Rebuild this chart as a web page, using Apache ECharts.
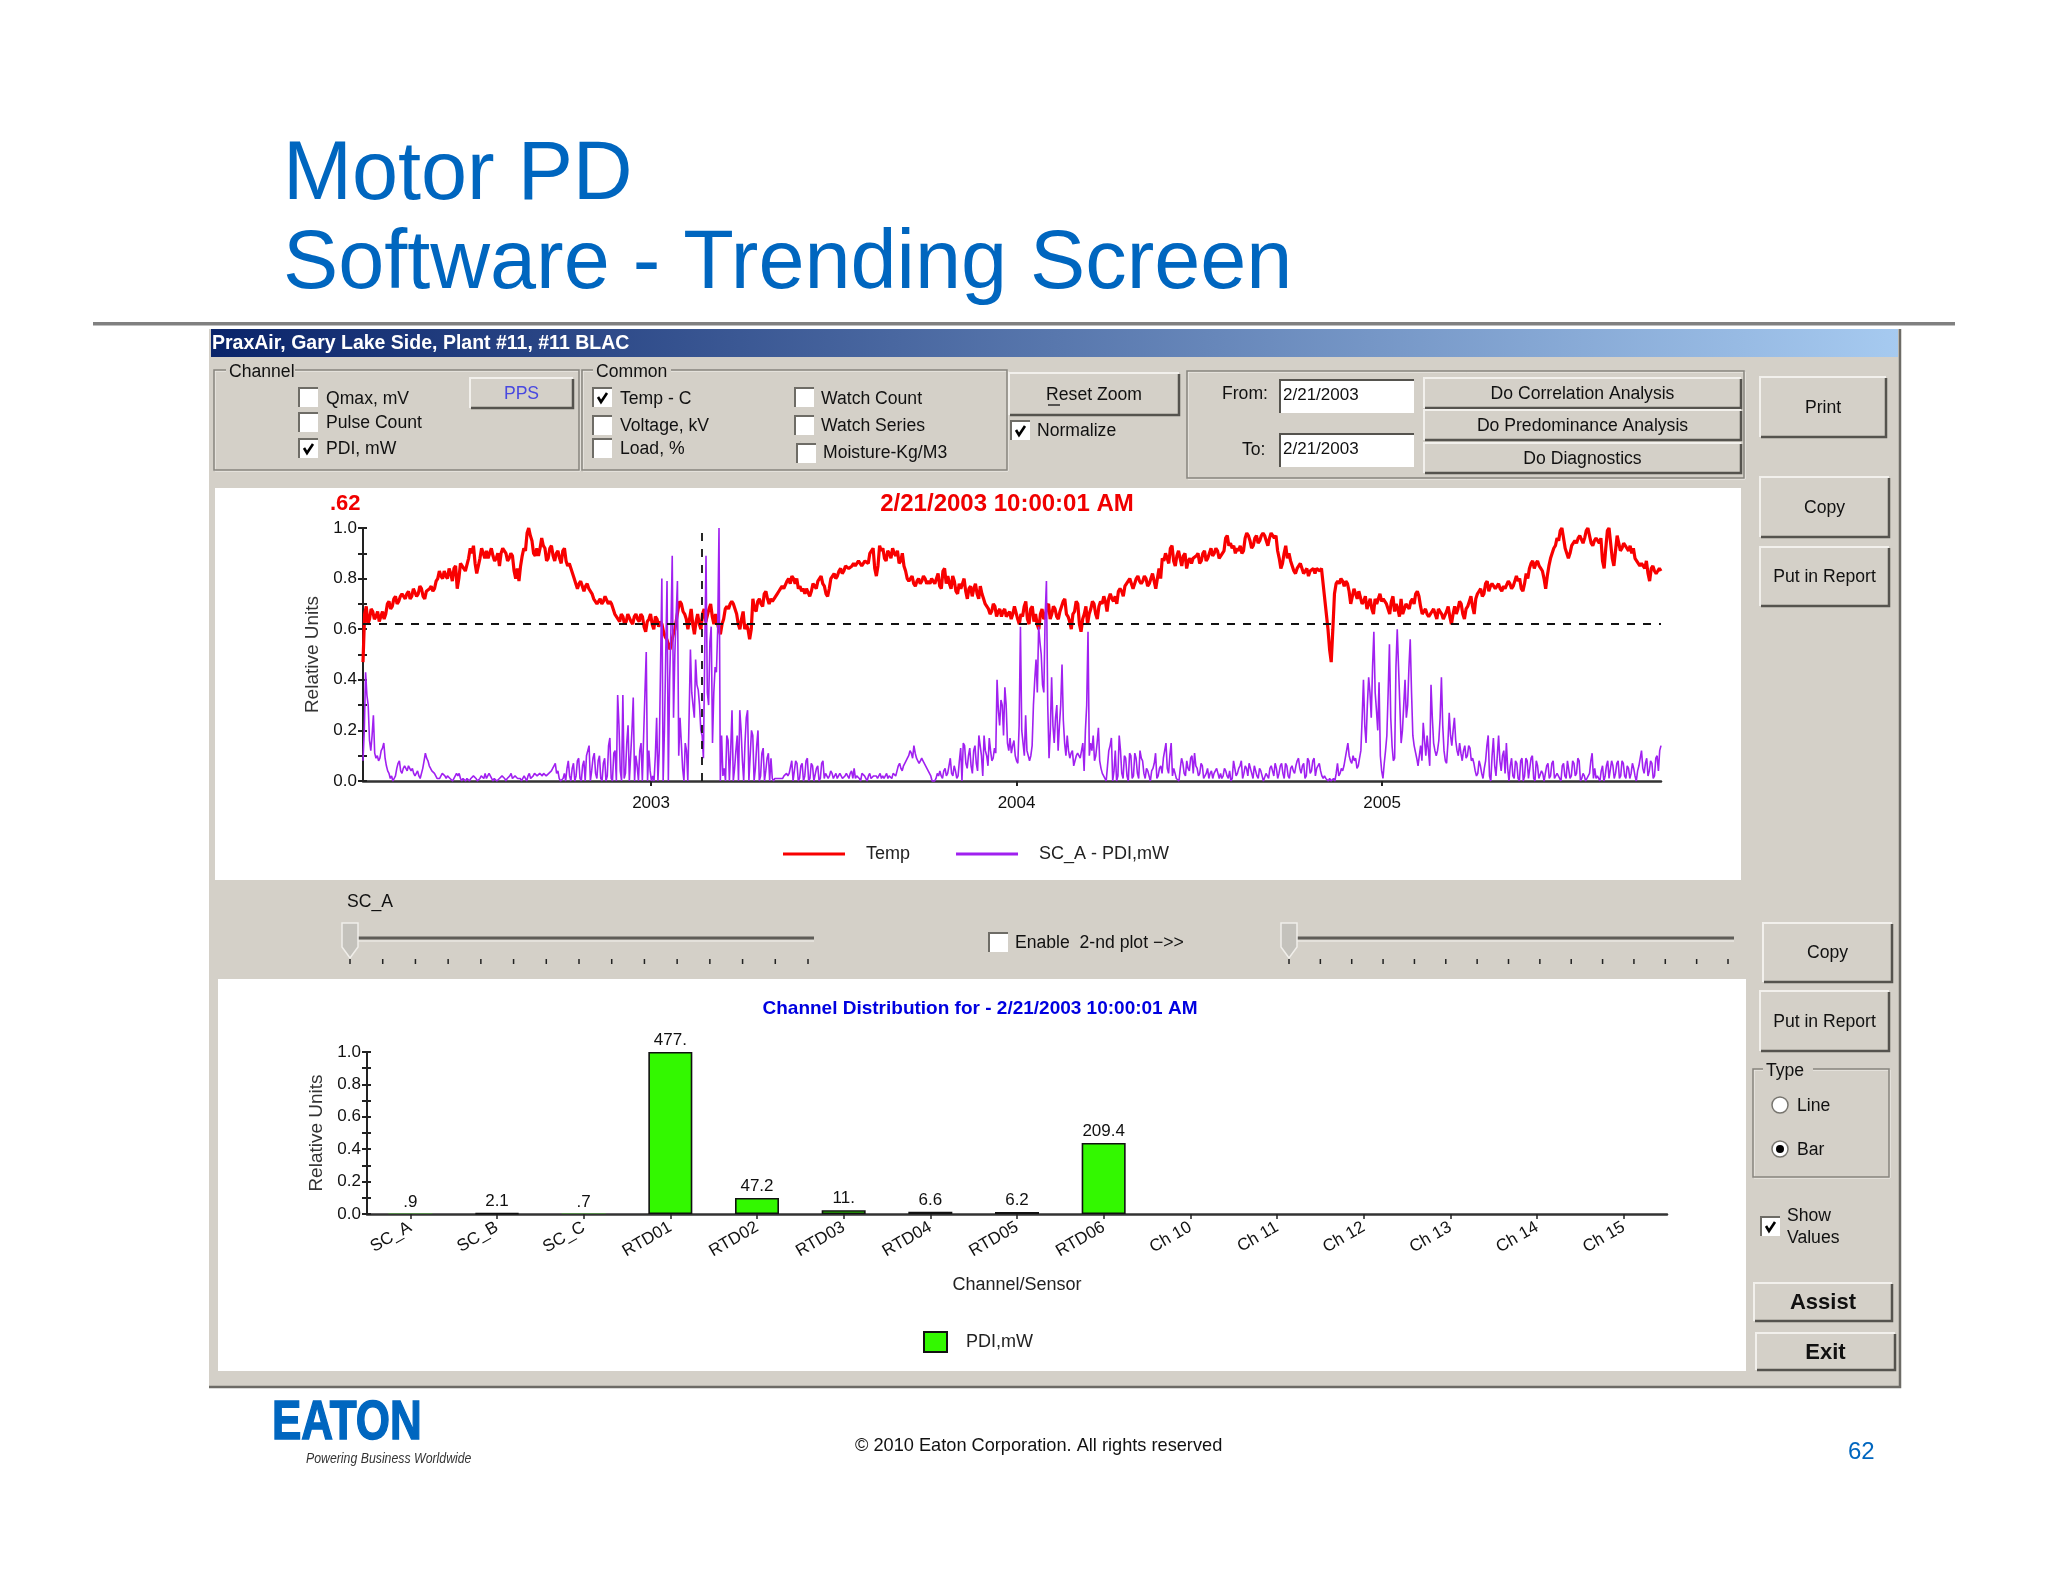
<!DOCTYPE html>
<html>
<head>
<meta charset="utf-8">
<title>Motor PD Software - Trending Screen</title>
<script src="https://cdn.jsdelivr.net/npm/echarts@6/dist/echarts.min.js"></script>
<style>
html,body{margin:0;padding:0;background:#fff;}
#main{width:2048px;height:1582px;}
</style>
</head>
<body>
<div id="main"></div>
<script>
// values, in percent of the relative scale, left to right
var tempSeg1 = [47,69,64,67,65,63,67,66,71,69,73,71,74,72,75,73,76,74,76,72,75,77,76,80,81,83,80,82,84,76,86,84,83,92,93,82,88,90,91,90,89,88,85,92,90,88,89,80,79,89,91,100,95,89,89,96,92,88,93,87,91,86,92,85,84,80,76,79,75,78,76,72,70,72,71,73,71,68,65,63];
var tempSeg2 = [65,63,66,62,66,63,65,59,64,62,65,61,62,57,54,55,60,68,70,66,60,68,58,66,60,68,63,70,62,66,58,64,69,70,70,66,60,67,62,56,72,67,72,69,75,70,71,73,75,77,76,80,81,78,76,75,74,76,75,77,79,81,77,73,80,82,81,84,83,85,84,86,86,86,85,87,90,92,81,93];
var tempSeg3 = [92,87,90,92,89,86,90,83,79,81,77,80,79,80,79,80,78,82,76,84,81,76,79,74,76,80,72,77,76,74,77,72,69,66,70,65,68,67,65,67,66,69,62,65,71,62,69,66,60,68,65,70,66,68,64,69,72,65,60,67,70,59,66,62,68,70,64,71,73,67,74,71,70,76,73,78,80,76,80,79];
var tempSeg4 = [79,80,78,82,76,84,88,90,86,93,85,91,85,90,87,86,88,90,87,91,88,92,90,91,89,91,97,94,93,92,93,91,98,95,93,97,95,98,95,96,98,97,88,86,93,90,85,82,85,84,83,81,83,82,84,84,72,60,47,74,79,80,77,78,70,76,72,75,71,68,72,66,70,74,72,70,66,73,70,65];
var tempSeg5 = [66,70,68,72,74,73,66,68,65,67,66,68,66,64,69,62,69,68,70,64,69,73,66,74,76,74,79,77,78,77,76,77,76,78,77,81,80,75,82,84,87,86,85,83,76,85,90,93,95,100,92,88,93,95,96,97,96,100,94,95,95,96,84,99,100,85,97,91,94,92,93,92,87,85,86,87,79,85,82,84];
// readings in between the ones above
var tempMid1 = [66,62,68,64,67,65,64,70,68,72,70,73,73,74,72,76,73,77,73,75,76,75,79,83,80,81,84,79,85,80,85,83,88,90,86,85,92,88,88,92,87,90,90,91,87,90,83,84,85,92,98,97,90,92,92,93,87,92,89,90,88,91,87,86,82,78,78,77,77,76,74,71,71,70,73,70,70,66,64,66];
var tempMid2 = [62,66,63,65,64,66,61,63,66,60,64,63,59,56,52,58,64,71,67,64,64,62,63,62,66,63,68,65,66,60,62,68,68,71,68,62,64,60,60,60,68,71,70,74,72,72,72,74,76,76,79,78,80,80,77,76,76,73,78,76,80,78,74,76,81,80,83,82,85,84,85,85,87,85,87,86,91,84,85,91];
var tempMid3 = [88,91,88,90,91,87,85,80,80,78,79,78,81,78,78,79,80,77,83,78,78,81,75,78,78,75,76,73,78,72,74,70,68,67,69,67,65,68,66,64,69,64,66,69,64,68,63,62,66,64,69,64,69,65,67,71,66,63,66,71,62,64,69,66,71,66,69,70,71,72,72,73,75,75,77,78,78,78,81,78];
var tempMid4 = [81,77,80,79,80,80,87,88,92,87,89,88,89,84,88,88,89,86,90,87,90,89,92,88,90,96,93,92,90,91,90,96,97,92,96,94,97,97,93,98,96,91,84,90,88,87,83,84,86,82,84,83,84,84,83,78,66,52,60,78,78,79,79,75,73,74,75,70,73,70,68,72,72,71,72,68,71,67,68,72];
var tempMid5 = [68,69,71,70,75,69,67,66,66,68,64,67,64,67,65,66,66,71,66,68,71,69,72,75,73,78,75,78,76,78,75,76,79,76,79,79,76,78,80,86,84,87,84,80,81,88,92,96,99,96,90,90,94,94,97,94,99,97,93,96,94,87,92,100,88,91,94,92,93,91,90,88,86,86,84,82,84,83,83,83];

var pdiSeg1 = [8,43,30,12,26,9,8,12,15,6,3,2,0,5,8,3,6,4,6,5,2,4,1,5,11,8,5,4,2,1,2,3,1,2,1,1,3,3,0,1,1,0,1,2,0,1,2,3,2,3,0,1,0,1,2,0,1,3,1,2,1,0,2,0,3,1,3,2,3,2,3,2,3,5,7,4,0,1,0,8,0,7,2,9,0,8,10,14,4,11,1,10,0,9,2,17,0,12,34,4];
var pdiSeg2 = [34,3,22,0,33,10,0,15,18,51,12,0,0,25,12,80,20,79,40,89,50,79,25,5,15,0,52,30,48,36,20,9,89,30,61,35,43,100,18,5,18,0,28,5,18,28,8,15,28,0,18,5,20,2,13,4,11,9,0,1,1,1,2,3,3,8,0,7,1,7,2,9,1,6,0,6,1,8,3,1,4,1,3,2,3,1,3,1,4,5,2,1,3,2,0,3,1,2,1,3];
var pdiSeg3 = [2,2,1,2,3,2,6,5,6,7,10,11,14,9,7,9,7,5,3,0,0,3,4,1,5,3,9,2,4,2,13,15,7,10,6,12,7,18,10,18,10,17,8,13,40,22,30,37,15,17,14,10,7,61,15,26,12,10,30,48,61,50,35,79,9,41,15,30,22,46,15,18,9,12,8,11,9,15,20,59,15,18,10,21,5,2,0,12,17,4,0,18,3,10,2,11,1,11,3,12];
var pdiSeg4 = [8,1,4,0,5,11,2,6,9,15,3,15,5,1,0,9,3,8,4,10,11,5,3,6,2,5,3,1,4,3,3,2,4,1,0,8,2,5,8,3,5,7,3,6,2,5,4,0,2,5,4,7,1,6,3,7,2,5,4,6,9,3,7,2,8,4,9,5,7,2,2,1,1,0,0,7,3,4,9,15,8,10,9,6,12,40,15,41,25,59,28,39,4,7,18,54,14,9,60,30];
var pdiSeg5 = [20,40,30,56,18,14,6,14,23,10,12,38,15,10,16,41,12,7,27,14,25,12,15,8,14,10,13,9,4,3,6,1,8,18,0,17,2,18,4,12,15,0,9,1,7,0,9,2,8,1,10,0,6,1,3,0,7,2,8,1,2,0,7,1,8,2,7,3,8,1,2,0,3,11,5,2,0,6,2,8,1,6,3,8,2,7,1,5,3,5,0,6,12,3,9,4,7,2,10,12];
var pdiMid1 = [20,34,16,18,11,10,9,13,9,4,1,0,2,7,4,5,5,6,4,3,3,2,3,8,9,6,4,3,1,1,3,2,2,1,0,2,2,1,1,0,1,1,2,1,0,2,1,1,3,1,1,0,1,2,1,1,2,1,2,1,1,1,1,2,1,2,3,2,3,3,2,3,4,6,3,1,0,3,5,2,5,0,8,1,6,0,12,0,9,3,8,1,7,0,14,1,11,0,22,0];
var pdiMid2 = [1,15,0,20,0,6,12,0,35,0,4,2,10,0,45,0,50,0,60,25,65,10,15,0,12,0,35,25,38,30,18,50,35,55,15,45,60,0,2,0,16,12,0,12,0,20,0,25,0,20,0,14,0,11,0,9,0,1,1,1,1,1,2,2,3,0,8,0,6,0,8,0,7,0,5,0,7,1,3,2,3,2,1,3,1,2,2,3,1,1,2,0,3,1,2,1,2,2,2,1];
var pdiMid3 = [1,3,2,1,3,4,7,4,7,9,12,9,11,8,8,8,6,4,2,0,1,2,2,4,2,6,3,6,1,8,0,14,5,13,3,14,4,14,2,12,6,12,9,11,28,32,18,30,12,11,16,8,22,20,10,12,8,14,40,35,55,38,65,30,20,22,25,12,30,24,10,12,11,6,10,10,12,4,30,10,12,8,15,8,3,1,6,14,0,12,2,12,1,9,0,10,2,9,1,9];
var pdiMid4 = [3,5,2,4,7,1,5,3,12,5,10,2,3,1,5,7,2,5,9,3,6,2,7,1,3,1,4,3,5,1,1,5,2,4,1,5,3,6,1,6,2,5,1,4,1,4,0,3,1,6,2,5,3,7,1,6,1,6,3,8,5,6,1,9,3,8,2,6,4,1,1,0,0,1,3,2,5,6,12,10,7,8,5,9,25,22,30,35,45,35,20,10,1,12,35,25,8,45,45,15];
var pdiMid5 = [30,25,45,35,14,9,10,8,16,18,6,25,12,12,25,22,8,15,18,20,16,10,11,12,9,14,8,7,2,8,3,5,14,2,10,6,10,8,10,3,5,6,2,8,1,8,0,9,1,9,1,8,1,4,0,6,1,7,1,3,1,6,2,8,1,8,2,9,0,3,0,2,8,1,1,1,4,0,6,1,8,1,7,1,8,2,6,1,7,2,4,9,5,7,2,8,1,9,4,14];

var yearTicks = [2003, 2004, 2005];
var firstYear = 2002.212;
var lastYear = 2005.763;
var cursorYear = 2003.142;
var cursorValue = 0.62;

var channels = ['SC_A','SC_B','SC_C','RTD01','RTD02','RTD03','RTD04','RTD05','RTD06','Ch 10','Ch 11','Ch 12','Ch 13','Ch 14','Ch 15'];
var channelValues = [0.9,2.1,0.7,477,47.2,11,6.6,6.2,209.4,null,null,null,null,null,null];
var channelLabels = ['.9','2.1','.7','477.','47.2','11.','6.6','6.2','209.4','','','','','',''];
var channelMax = 477;

var FONT = '"Liberation Sans", Arial, sans-serif';
var FACE = '#d4d0c8';
var UI = 17.6;

// one reading, then the one after it, all the way along
function alternate(a, b) {
	var out = [];
	for (var i = 0; i < a.length; i++) out.push(a[i], b[i]);
	return out;
}
function overTime(list) {
	return list.map(function (v, i) {
		return [firstYear + i * (lastYear - firstYear) / (list.length - 1), v / 100];
	});
}
var tempLine = overTime(alternate(tempSeg1, tempMid1).concat(alternate(tempSeg2, tempMid2), alternate(tempSeg3, tempMid3), alternate(tempSeg4, tempMid4), alternate(tempSeg5, tempMid5)));
var pdiLine = overTime(alternate(pdiSeg1, pdiMid1).concat(alternate(pdiSeg2, pdiMid2), alternate(pdiSeg3, pdiMid3), alternate(pdiSeg4, pdiMid4), alternate(pdiSeg5, pdiMid5)));
var channelBars = channelValues.map(function (v) {
	if (v === null) return null;
	// the sub-unit channels show no outline at this scale
	return {value:v / channelMax, itemStyle:{borderWidth:v < 1 ? 0 : 1.6}};
});

// window chrome, everything below the plots
var chrome = [];
function txt(s, x, y, size, o) {
	o = o || {};
	chrome.push({type:'text', z:-1, x:x, y:y + 1, scaleX:o.squeeze || 1, style:{text:s, x:0, y:0,
		font:(o.weight || 'normal') + ' ' + (o.style || 'normal') + ' ' + size + 'px ' + FONT,
		fontSize:size, fontFamily:'Liberation Sans', fontWeight:o.weight || 'normal', fontStyle:o.style || 'normal',
		fill:o.color || '#111', align:o.align || 'left', verticalAlign:'middle',
		textAlign:o.align || 'left', textVerticalAlign:'middle',
		stroke:o.stroke || null, lineWidth:o.strokeWidth || 0}});
}
function box(x, y, w, h, fill, stroke, lw) {
	chrome.push({type:'rect', z:-2, shape:{x:x, y:y, width:w, height:h},
		style:{fill:fill, stroke:stroke || null, lineWidth:lw || 0}});
}
function line(points, color, lw) {
	chrome.push({type:'polyline', z:-1, shape:{points:points}, style:{stroke:color, fill:null, lineWidth:lw}});
}
function button(x, y, w, h, label, o) {
	o = o || {};
	box(x, y, w, h, FACE);
	line([[x, y + h], [x, y], [x + w, y]], '#f2f0ec', 2);
	line([[x + 1, y + h], [x + w, y + h], [x + w, y + 1]], '#55534e', 2.5);
	txt(label, x + w / 2, y + h / 2, o.size || UI, {align:'center', color:o.color, weight:o.weight});
}
function checkbox(x, y, checked) {
	box(x, y, 19, 19, '#fff');
	line([[x, y + 19], [x, y], [x + 19, y]], '#6e6c66', 2);
	if (checked) line([[x + 5, y + 9], [x + 8, y + 14], [x + 14, y + 5]], '#000', 2.6);
}
function group(x, y, w, h, label, labelX, labelW) {
	box(x + 1, y + 1, w, h, null, '#f4f2ee', 1);
	box(x, y, w, h, null, '#86847e', 1.5);
	if (label) {
		box(labelX - 3, y - 6, labelW + 6, 12, FACE);
		txt(label, labelX, y + 1, UI);
	}
}
function radio(x, y, on) {
	chrome.push({type:'circle', z:-1, shape:{cx:x, cy:y, r:8}, style:{fill:'#fff', stroke:'#77756f', lineWidth:1.5}});
	if (on) chrome.push({type:'circle', z:-1, shape:{cx:x, cy:y, r:4}, style:{fill:'#000'}});
}
function slider(trackX, trackEnd, thumbX) {
	line([[trackX, 938], [trackEnd, 938]], '#5f5d58', 3);
	line([[trackX, 941], [trackEnd, 941]], '#f4f2ee', 1);
	chrome.push({type:'polygon', z:-1, shape:{points:[[thumbX, 923], [thumbX + 16, 923], [thumbX + 16, 947], [thumbX + 8, 958], [thumbX, 947]]},
		style:{fill:'#c4c2bc', stroke:'#f0eeea', lineWidth:1.5}});
	for (var i = 0; i < 15; i++) {
		var tx = thumbX + 8 + i * (trackEnd - thumbX - 14) / 14;
		line([[tx, 959], [tx, 964]], '#222', 1.5);
	}
}

// slide heading and rule
txt('Motor PD', 283, 175, 82.8, {color:'#0066bf'});
txt('Software - Trending Screen', 283, 264, 82.8, {color:'#0066bf'});
box(93, 322, 1862, 3.5, '#808080');

// window
box(209, 329, 1691, 1058, FACE);
line([[1900, 329], [1900, 1387], [209, 1387]], '#6d6b66', 2.5);
chrome.push({type:'rect', z:-1, shape:{x:211, y:329, width:1687, height:28},
	style:{fill:new echarts.graphic.LinearGradient(0, 0, 1, 0, [{offset:0, color:'#0a246a'}, {offset:1, color:'#a6caf0'}])}});
txt('PraxAir, Gary Lake Side, Plant #11, #11 BLAC', 212, 343, 19.5, {color:'#fff', weight:'bold'});

// white plot panels
box(215, 488, 1526, 392, '#fff');
box(218, 979, 1528, 392, '#fff');

// channel group
group(214, 370, 365, 100, 'Channel', 229, 63);
checkbox(299, 388, false); txt('Qmax, mV', 326, 398, UI);
checkbox(299, 413, false); txt('Pulse Count', 326, 422, UI);
checkbox(299, 439, true); txt('PDI, mW', 326, 448, UI);
button(470, 378, 103, 30, 'PPS', {color:'#4848e0'});

// common group
group(582, 370, 425, 100, 'Common', 596, 72);
checkbox(593, 388, true); txt('Temp - C', 620, 398, UI);
checkbox(593, 416, false); txt('Voltage, kV', 620, 425, UI);
checkbox(593, 439, false); txt('Load, %', 620, 448, UI);
checkbox(795, 388, false); txt('Watch Count', 821, 398, UI);
checkbox(795, 416, false); txt('Watch Series', 821, 425, UI);
checkbox(797, 444, false); txt('Moisture-Kg/M3', 823, 452, UI);

// zoom and date range
button(1009, 373, 170, 42, 'Reset Zoom');
line([[1048, 405], [1060, 405]], '#111', 1.3);
checkbox(1011, 421, true); txt('Normalize', 1037, 430, UI);
group(1187, 371, 557, 107);
txt('From:', 1222, 393, UI);
txt('To:', 1242, 449, UI);
box(1280, 380, 134, 33, '#fff');
line([[1280, 413], [1280, 380], [1414, 380]], '#55534e', 2);
txt('2/21/2003', 1283, 394, 17);
box(1280, 434, 134, 33, '#fff');
line([[1280, 467], [1280, 434], [1414, 434]], '#55534e', 2);
txt('2/21/2003', 1283, 448, 17);
button(1424, 378, 317, 30, 'Do Correlation Analysis');
button(1424, 410, 317, 30, 'Do Predominance Analysis');
button(1424, 443, 317, 30, 'Do Diagnostics');

// right hand column
button(1760, 377, 126, 60, 'Print');
button(1760, 477, 129, 60, 'Copy');
button(1760, 547, 129, 59, 'Put in Report');
button(1763, 923, 129, 59, 'Copy');
button(1760, 991, 129, 60, 'Put in Report');
group(1753, 1069, 136, 108, 'Type', 1766, 44);
radio(1780, 1105, false); txt('Line', 1797, 1105, UI);
radio(1780, 1149, true); txt('Bar', 1797, 1149, UI);
checkbox(1761, 1217, true);
txt('Show', 1787, 1215, UI);
txt('Values', 1787, 1237, UI);
button(1754, 1283, 138, 38, 'Assist', {size:22, weight:'bold'});
button(1756, 1333, 139, 37, 'Exit', {size:22, weight:'bold'});

// sliders between the plots
txt('SC_A', 347, 901, UI);
slider(358, 814, 342);
slider(1297, 1734, 1281);
checkbox(989, 933, false);
txt('Enable  2-nd plot \u2212>>', 1015, 942, UI);

// footer
txt('EATON', 272, 1423, 56, {color:'#0066bf', weight:'bold', stroke:'#0066bf', strokeWidth:1.5, squeeze:0.785});
txt('Powering Business Worldwide', 306, 1458, 15, {color:'#333', style:'italic', squeeze:0.82});
txt('\u00a9 2010 Eaton Corporation. All rights reserved', 855, 1445, 18.2, {color:'#111'});
txt('62', 1848, 1451, 24, {color:'#0066bf'});

var axisFont = {fontFamily:FONT, fontSize:17, color:'#111'};

function valueAxis(gridIndex) {
	return {
		type:'value', gridIndex:gridIndex, position:'left', min:0, max:1, interval:0.2,
		name:'Relative Units', nameLocation:'middle', nameGap:39,
		nameTextStyle:{fontFamily:FONT, fontSize:19, color:'#333'},
		axisLine:{show:true, lineStyle:{color:'#222', width:2}},
		axisTick:{show:true, length:5, lineStyle:{color:'#222', width:2}},
		minorTick:{show:true, splitNumber:2, length:5, lineStyle:{color:'#222', width:2}},
		minorSplitLine:{show:false},
		splitLine:{show:false},
		axisLabel:Object.assign({margin:6, formatter:function (v) { return v.toFixed(1); }}, axisFont)
	};
}
// same scale again, only for the tick marks on the inner side of the axis
function innerTicks(gridIndex) {
	return {
		type:'value', gridIndex:gridIndex, position:'left', min:0, max:1, interval:0.2,
		axisLine:{show:false},
		axisTick:{show:true, inside:true, length:4, lineStyle:{color:'#222', width:2}},
		minorTick:{show:true, splitNumber:2, length:4, lineStyle:{color:'#222', width:2}},
		splitLine:{show:false},
		axisLabel:{show:false}
	};
}

var option = {
	animation:false,
	backgroundColor:'#fff',
	graphic:{elements:chrome},
	title:[
		{text:'.62', left:325, top:488, textStyle:{fontFamily:FONT, fontSize:22, fontWeight:'bold', color:'#f00000'}},
		{text:'2/21/2003 10:00:01 AM', left:1002, textAlign:'center', top:487, textStyle:{fontFamily:FONT, fontSize:24, fontWeight:'bold', color:'#f00000'}},
		{text:'Channel Distribution for - 2/21/2003 10:00:01 AM', left:975, textAlign:'center', top:994, textStyle:{fontFamily:FONT, fontSize:19, fontWeight:'bold', color:'#0000e0'}}
	],
	legend:[
		{data:['Temp','SC_A - PDI,mW'], left:778, top:840, icon:'rect', itemWidth:62, itemHeight:3, itemGap:46, selectedMode:false,
			textStyle:{fontFamily:FONT, fontSize:18, color:'#222', padding:[0,0,0,16]}},
		{data:['PDI,mW'], left:918, top:1326, icon:'rect', itemWidth:23, itemHeight:20, selectedMode:false,
			textStyle:{fontFamily:FONT, fontSize:18, color:'#222', padding:[0,0,0,14]}}
	],
	grid:[
		{left:363, top:528, width:1298, height:253},
		{left:367, top:1052, width:1300, height:162}
	],
	xAxis:[
		{
			type:'value', gridIndex:0, min:firstYear, max:lastYear, splitLine:{show:false},
			axisLine:{onZero:false, lineStyle:{color:'#333', width:2.5}},
			axisTick:{show:true, length:5, customValues:yearTicks, lineStyle:{color:'#222', width:2}},
			axisLabel:Object.assign({show:true, margin:14, customValues:yearTicks, formatter:function (v) { return String(Math.round(v)); }}, axisFont)
		},
		{
			type:'category', gridIndex:1, data:channels,
			name:'Channel/Sensor', nameLocation:'middle', nameGap:62,
			nameTextStyle:{fontFamily:FONT, fontSize:18, color:'#222'},
			axisLine:{lineStyle:{color:'#333', width:2.5}},
			axisTick:{show:true, alignWithLabel:true, length:5, lineStyle:{color:'#222', width:1.5}},
			axisLabel:Object.assign({rotate:30, margin:12, interval:0}, axisFont)
		}
	],
	yAxis:[valueAxis(0), valueAxis(1), innerTicks(0), innerTicks(1)],
	series:[
		{
			name:'Temp', type:'line', xAxisIndex:0, yAxisIndex:0, data:tempLine,
			symbol:'none', sampling:null, clip:false, itemStyle:{color:'#f80000'},
			lineStyle:{color:'#f80000', width:3.2}, z:3
		},
		{
			name:'SC_A - PDI,mW', type:'line', xAxisIndex:0, yAxisIndex:0, data:pdiLine,
			symbol:'none', sampling:null, clip:false, itemStyle:{color:'#a020f0'},
			lineStyle:{color:'#a020f0', width:1.6}, z:4,
			markLine:{
				silent:true, symbol:'none', animation:false, label:{show:false},
				lineStyle:{color:'#111', type:[8,8], width:1.8},
				data:[{yAxis:cursorValue}, {xAxis:cursorYear}]
			}
		},
		{
			name:'PDI,mW', type:'bar', xAxisIndex:1, yAxisIndex:1, data:channelBars, barWidth:44,
			itemStyle:{color:'#33f800', borderColor:'#111', borderWidth:1.6},
			label:{show:true, position:'top', distance:3, fontFamily:FONT, fontSize:17, color:'#111',
				formatter:function (p) { return channelLabels[p.dataIndex]; }}
		}
	]
};

var myChart = echarts.init(document.getElementById('main'), null, {renderer:'canvas'});
myChart.setOption(option);
</script>
</body>
</html>
